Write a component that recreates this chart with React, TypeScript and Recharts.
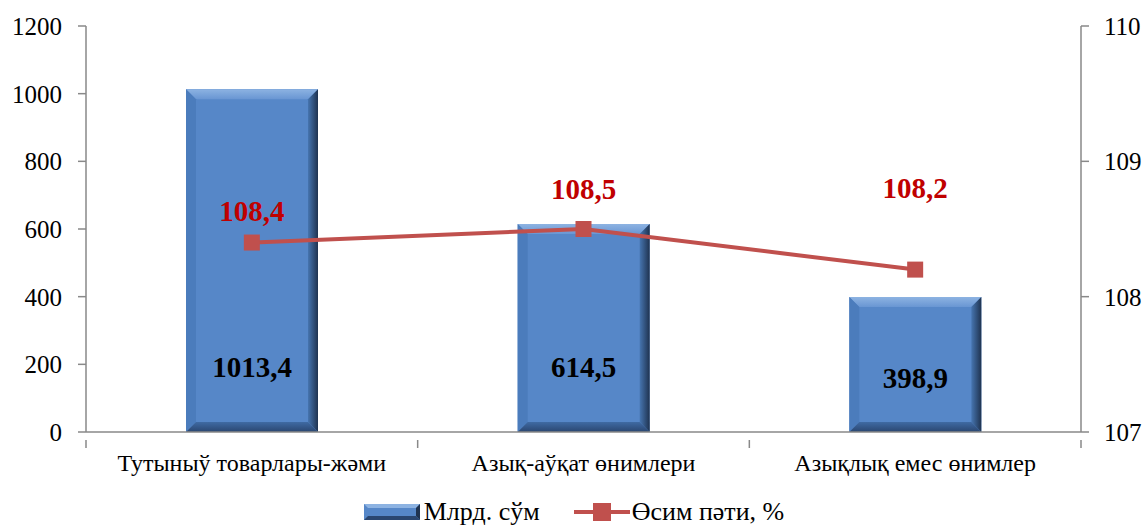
import React from 'react';
import { ComposedChart, Bar, Line, XAxis, YAxis, Legend, LabelList } from 'recharts';

const categories = ['Тутыныў товарлары-жәми', 'Азық-аўқат өнимлери', 'Азықлық емес өнимлер'];
const volume = [1013.4, 614.5, 398.9];
const growth = [108.4, 108.5, 108.2];
const leftTicks = [0, 200, 400, 600, 800, 1000, 1200];
const rightTicks = [107, 108, 109, 110];

const data = categories.map((name, i) => ({ name, volume: volume[i], growth: growth[i] }));

const FONT = '"Liberation Serif", "DejaVu Serif", serif';
const AXIS = '#898989';
const LINE = '#C0504D';
// how far above the marker each red label sits
const growthLabelLift = [32, 40, 82];

const fmt = (v: number) => v.toFixed(1).replace('.', ',');

function BevelBar(props: any) {
  const { x, y, width: w, height: h } = props;
  if (!h || h <= 0) return null;
  const b = 10;
  return (
    <g>
      <defs>
        <linearGradient id="bvRight" x1="0" y1="0" x2="1" y2="0">
          <stop offset="0%" stopColor="#4675B0" />
          <stop offset="100%" stopColor="#1F3350" />
        </linearGradient>
        <linearGradient id="bvTop" x1="0" y1="0" x2="0" y2="1">
          <stop offset="0%" stopColor="#8DB3E2" />
          <stop offset="100%" stopColor="#6996D3" />
        </linearGradient>
        <linearGradient id="bvBottom" x1="0" y1="0" x2="0" y2="1">
          <stop offset="0%" stopColor="#3F6AA3" />
          <stop offset="100%" stopColor="#2A4670" />
        </linearGradient>
      </defs>
      <rect x={x} y={y} width={w} height={h} fill="#5687C8" />
      <polygon points={`${x},${y} ${x + w},${y} ${x + w - b},${y + b} ${x + b},${y + b}`} fill="url(#bvTop)" />
      <polygon points={`${x},${y} ${x + b},${y + b} ${x + b},${y + h - b} ${x},${y + h}`} fill="#4B7CBC" />
      <polygon points={`${x + w},${y} ${x + w},${y + h} ${x + w - b},${y + h - b} ${x + w - b},${y + b}`} fill="url(#bvRight)" />
      <polygon points={`${x},${y + h} ${x + w},${y + h} ${x + w - b},${y + h - b} ${x + b},${y + h - b}`} fill="url(#bvBottom)" />
    </g>
  );
}

function SquareDot(props: any) {
  const { cx, cy } = props;
  if (cx == null || cy == null) return null;
  return <rect x={cx - 8} y={cy - 8} width={16} height={16} fill={LINE} />;
}

function VolumeLabel(props: any) {
  const { x, y, width, height, value } = props;
  const lift = Math.min(65, height * 0.4);
  return (
    <text x={x + width / 2} y={y + height - lift} textAnchor="middle" dominantBaseline="central"
      fontFamily={FONT} fontWeight="bold" fontSize={29} fill="#000">
      {fmt(value)}
    </text>
  );
}

function GrowthLabel(props: any) {
  const { x, y, value, index } = props;
  return (
    <text x={x} y={y - growthLabelLift[index]} textAnchor="middle" dominantBaseline="central"
      fontFamily={FONT} fontWeight="bold" fontSize={29} fill="#C00000">
      {fmt(value)}
    </text>
  );
}

function CategoryTick(props: any) {
  const { x, y, payload, index, visibleTicksCount } = props;
  const half = payload?.offset ?? 0;
  const last = index === visibleTicksCount - 1;
  return (
    <g>
      <line x1={x - half} y1={y} x2={x - half} y2={y + 8} stroke={AXIS} strokeWidth={1.5} />
      {last && <line x1={x + half} y1={y} x2={x + half} y2={y + 8} stroke={AXIS} strokeWidth={1.5} />}
      <text x={x} y={y + 23} textAnchor="middle" dominantBaseline="central"
        style={{ fontFamily: FONT }} fontSize={24} fill="#000">
        {payload.value}
      </text>
    </g>
  );
}

function LegendContent() {
  return (
    <div style={{ height: 50, display: 'flex', justifyContent: 'center', alignItems: 'center',
      position: 'relative', top: 10, fontFamily: FONT, fontSize: 26, color: '#000' }}>
      <svg width={56} height={16} style={{ marginRight: 4 }}>
        <rect x={0} y={0} width={56} height={16} fill="#5687C8" />
        <polygon points="0,0 56,0 52,4 4,4" fill="#8DB3E2" />
        <polygon points="56,0 56,16 52,12 52,4" fill="#1F3350" />
        <polygon points="0,16 56,16 52,12 4,12" fill="#2A4670" />
      </svg>
      <span style={{ fontFamily: FONT }}>Млрд. сўм</span>
      <svg width={56} height={18} style={{ marginLeft: 34, marginRight: 2 }}>
        <line x1={0} y1={9} x2={56} y2={9} stroke={LINE} strokeWidth={4} />
        <rect x={19} y={0} width={18} height={18} fill={LINE} />
      </svg>
      <span style={{ fontFamily: FONT }}>Өсим пәти, %</span>
    </div>
  );
}

export default function App() {
  return (
    <div style={{ position: 'absolute', left: 0, top: 0, background: '#fff', fontFamily: FONT }}>
      <ComposedChart width={1148} height={527} data={data}
        margin={{ top: 26, right: 0, left: 0, bottom: 0 }}>
        <XAxis dataKey="name" xAxisId={0} height={45} axisLine={{ stroke: AXIS, strokeWidth: 1.5 }}
          tickLine={false} tick={<CategoryTick />} interval={0} />
        <YAxis yAxisId="left" orientation="left" width={86} domain={[0, 1200]} ticks={leftTicks}
          axisLine={{ stroke: AXIS, strokeWidth: 1.5 }} tickLine={{ stroke: AXIS, strokeWidth: 1.5 }}
          tickSize={8} tickMargin={16}
          tick={{ fontFamily: FONT, fontSize: 25, fill: '#000' }} />
        <YAxis yAxisId="right" orientation="right" width={67} domain={[107, 110]} ticks={rightTicks}
          axisLine={{ stroke: AXIS, strokeWidth: 1.5 }} tickLine={{ stroke: AXIS, strokeWidth: 1.5 }}
          tickSize={8} tickMargin={15}
          tick={{ fontFamily: FONT, fontSize: 25, fill: '#000', textAnchor: 'start' }} />
        <Legend verticalAlign="bottom" height={50} content={<LegendContent />} />
        <Bar yAxisId="left" dataKey="volume" name="Млрд. сўм" barSize={132}
          shape={<BevelBar />} isAnimationActive={false}>
          <LabelList dataKey="volume" content={<VolumeLabel />} />
        </Bar>
        <Line yAxisId="right" dataKey="growth" name="Өсим пәти, %" type="linear" stroke={LINE}
          strokeWidth={4} dot={<SquareDot />} activeDot={false} isAnimationActive={false}>
          <LabelList dataKey="growth" content={<GrowthLabel />} />
        </Line>
      </ComposedChart>
    </div>
  );
}
